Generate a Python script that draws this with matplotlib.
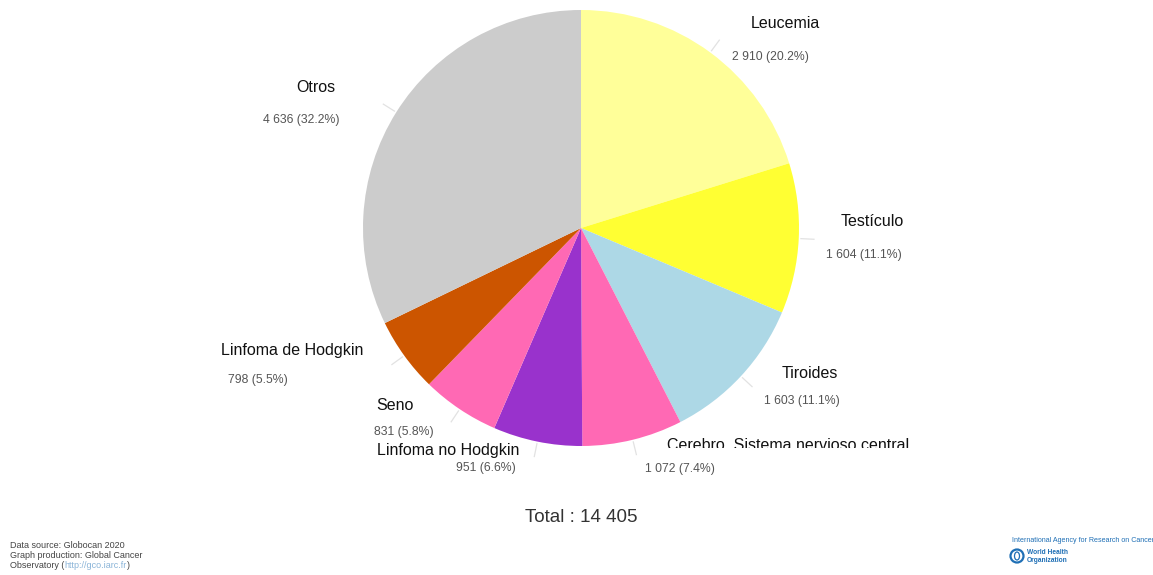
import matplotlib
matplotlib.use("Agg")
import matplotlib.pyplot as plt
from matplotlib.patches import Ellipse, Rectangle
import numpy as np

# Cancer cases by site
categories = ["Leucemia", "Testículo", "Tiroides", "Cerebro, Sistema nervioso central",
              "Linfoma no Hodgkin", "Seno", "Linfoma de Hodgkin", "Otros"]
cases = [2910, 1604, 1603, 1072, 951, 831, 798, 4636]
colors = ["#FFFF99", "#FFFF33", "#ADD8E6", "#FF69B4", "#9932CC", "#FF69B4", "#CC5500", "#CCCCCC"]
total_label = "Total : 14 405"

W, H = 1153, 575
fig = plt.figure(figsize=(W / 100, H / 100), dpi=100)
plt.rcParams['font.family'] = ['Liberation Sans', 'DejaVu Sans']


def fpos(x, y):
    """Pixel position (origin top-left) to figure fraction."""
    return x / W, 1 - y / H


# Pie axes: centre (581, 228), radius 218 px
cx, cy, r = 581, 228, 218
ax = fig.add_axes([(cx - r) / W, 1 - (cy + r) / H, 2 * r / W, 2 * r / H])
wedges, _ = ax.pie(cases, colors=colors, startangle=90, counterclock=False,
                   radius=1.0, wedgeprops=dict(linewidth=0))
ax.set_xlim(-1, 1)
ax.set_ylim(-1, 1)
ax.set_aspect("equal")
ax.axis("off")

# faint leader lines from the wedge mid-angles
for w in wedges:
    ang = np.deg2rad((w.theta1 + w.theta2) / 2)
    x0, y0 = np.cos(ang) * 1.01, np.sin(ang) * 1.01
    x1, y1 = np.cos(ang) * 1.07, np.sin(ang) * 1.07
    ax.plot([x0, x1], [y0, y1], color="#e2e2e2", lw=0.9, clip_on=False)

# label layout (pixel positions of name and value lines)
name_pos = [(785, 24), (872, 221), (810, 373), (667, 445), (448, 451), (395, 406), (292, 350), (316, 87)]
name_ha = ["center", "center", "center", "left", "center", "center", "center", "center"]
value_pos = [(770, 57), (864, 255), (802, 401), (680, 469), (486, 468), (404, 432), (258, 380), (301, 120)]

tot = sum(cases)
for name, v, npos, ha, vpos in zip(categories, cases, name_pos, name_ha, value_pos):
    fig.text(*fpos(*npos), name, ha=ha, va="center", fontsize=11.5, color="#111111", zorder=3)
    val = f"{v:,}".replace(",", " ") + f" ({100 * v / tot:.1f}%)"
    fig.text(*fpos(*vpos), val, ha="center", va="center", fontsize=8.8, color="#555555", zorder=3)

# the label area ends just below the pie: the long brain label is cut off there
fig.add_artist(Rectangle(fpos(655, 461), 270 / W, 13 / H, transform=fig.transFigure,
                         facecolor="white", edgecolor="none", zorder=4))

fig.text(*fpos(581, 517), total_label, ha="center", va="center", fontsize=13.5, color="#333333")

# footer: source note
fs = 6.5
fig.text(*fpos(10, 545), "Data source: Globocan 2020", fontsize=fs, color="#444444", va="center")
fig.text(*fpos(10, 555), "Graph production: Global Cancer", fontsize=fs, color="#444444", va="center")
t1 = fig.text(*fpos(10, 565), "Observatory (", fontsize=fs, color="#444444", va="center")
t2 = fig.text(*fpos(10, 565), "http://gco.iarc.fr", fontsize=fs, color="#8ab4d8", va="center")
t3 = fig.text(*fpos(10, 565), ")", fontsize=fs, color="#444444", va="center")

fig.canvas.draw()
rend = fig.canvas.get_renderer()
x = 10 + t1.get_window_extent(rend).width
t2.set_position(fpos(x, 565))
x += t2.get_window_extent(rend).width
t3.set_position(fpos(x, 565))

# footer: agency logos
fig.text(*fpos(1012, 541), "International Agency for Research on Cancer", fontsize=5.1,
         color="#1f6fb5", va="center")
fig.add_artist(Ellipse(fpos(1017, 556), 13 / W, 13 / H, transform=fig.transFigure,
                       facecolor="white", edgecolor="#1f6fb5", lw=1.6))
fig.add_artist(Ellipse(fpos(1017, 556), 5 / W, 8 / H, transform=fig.transFigure,
                       facecolor="none", edgecolor="#1f6fb5", lw=0.9))
fig.text(*fpos(1027, 553), "World Health", fontsize=4.8, color="#1f6fb5", va="center",
         fontweight="bold")
fig.text(*fpos(1027, 560), "Organization", fontsize=4.8, color="#1f6fb5", va="center",
         fontweight="bold")

fig.savefig("out.png", dpi=100, facecolor="white")
